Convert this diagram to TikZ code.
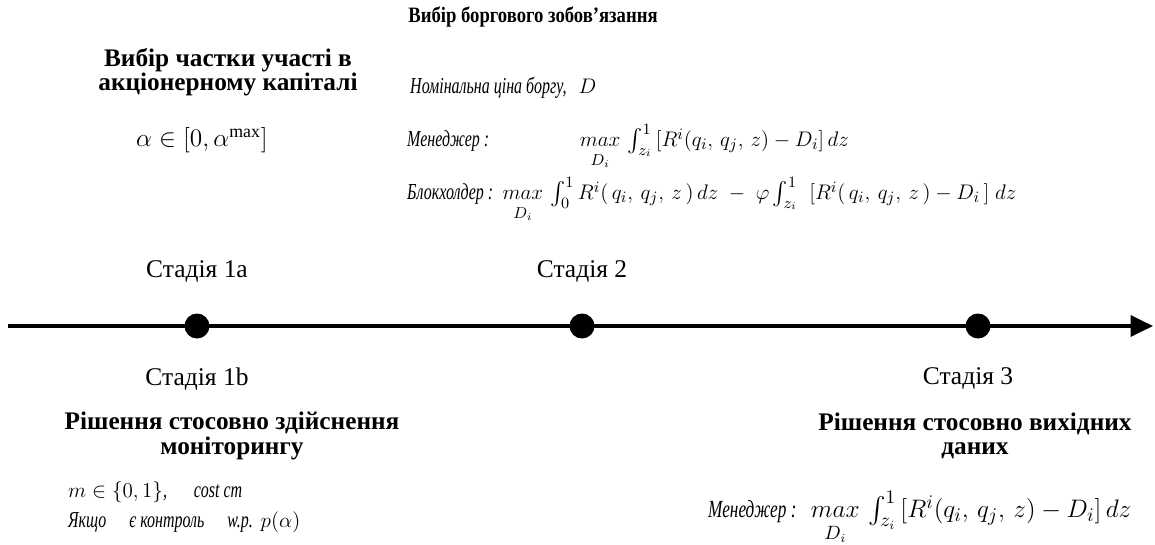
\documentclass[tikz,border=0pt]{standalone}
\usepackage{amsmath}
\usepackage{amssymb}
\usepackage{fontspec}
\setmainfont{Liberation Serif}[
    BoldFont={Liberation Serif Bold},
    ItalicFont={Liberation Serif Italic},
    ItalicFeatures={FakeStretch=0.7}]
\newfontfamily\narrowbold{Liberation Serif Bold}[FakeStretch=0.85]
\newcommand{\mmax}[1]{\mathop{max}\limits_{\rule{0pt}{1.45ex}#1}}
\usetikzlibrary{arrows.meta, positioning}

\begin{document}
\begin{tikzpicture}[
    x=0.02cm, y=-0.02cm,
    stage/.style={font=\fontsize{14.5}{16}\selectfont},
    head/.style={font=\bfseries\fontsize{14.4}{14}\selectfont, align=center},
    formula/.style={anchor=west, font=\itshape\fontsize{13}{15}\selectfont},
    dot/.style={circle, fill=black, inner sep=0pt, minimum size=0.5cm},
    timeline/.style={-{Triangle[length=0.45cm, width=0.42cm]}, line width=2pt}
]
    \useasboundingbox (0,0) rectangle (1155,544);

    % Debt choice
    \node[font=\narrowbold\fontsize{12.5}{14}\selectfont] (debt) at (533,17) {Вибір боргового зобов’язання};
    \node[formula] (face) at (404,88) {Номінальна ціна боргу,\ \ \ $D$};
    \node[formula] (mgrtwo) at (401,147) {Менеджер : \hspace{1.6cm} $\mmax{D_i}\,\int_{z_i}^{1}\,[R^i(q_i,\,q_j,\,z)-D_i]\,dz$};
    \node[formula] (block) at (401,200) {Блокхолдер : \ $\mmax{D_i}\,\int_{0}^{1}R^i(\,q_i,\ q_j,\ z\,)\,dz\;-\;\varphi\int_{z_i}^{1}\;\;[R^i(\,q_i,\ q_j,\ z\,)-D_i\,]\;dz$};

    % Equity share choice
    \node[head] (share) at (228,72) {Вибір частки участі в\\акціонерному капіталі};
    \node[stage] (alpha) at (202,140) {$\alpha\in[0,\alpha^{\max}]$};

    % Timeline
    \coordinate (start) at (8,326);
    \coordinate (end) at (1153,326);
    \draw[timeline] (start) -- (end);
    \node[dot] (sone) at (197,326) {};
    \node[dot] (stwo) at (582,326) {};
    \node[dot] (sthree) at (978,326) {};

    % Stage labels
    \node[stage, above=0.5cm of sone] (laba) {Стадія 1a};
    \node[stage, above=0.5cm of stwo] (labtwo) {Стадія 2};
    \node[stage, below=0.45cm of sone] (labb) {Стадія 1b};
    \node[stage, below=0.45cm of sthree, xshift=-0.2cm] (labthree) {Стадія 3};

    % Monitoring decision
    \node[head] (monitor) at (232,436) {Рішення стосовно здійснення\\моніторингу};
    \node[formula] (mset) at (62,492) {$m\in\{0,1\}$,\quad\ cost cm};
    \node[formula] (control) at (62,522) {Якщо\quad є контроль\quad w.p.\ \ $p(\alpha)$};

    % Output decision
    \node[head] (output) at (975,436) {Рішення стосовно вихідних\\даних};
    \node[formula, font=\itshape\fontsize{14}{16}\selectfont] (mgrthree) at (702,518) {Менеджер : \ \ {\fontsize{15}{16}\selectfont$\mmax{D_i}\,\int_{z_i}^{1}\,[R^i(q_i,\,q_j,\,z)-D_i]\,dz$}};
\end{tikzpicture}
\end{document}
